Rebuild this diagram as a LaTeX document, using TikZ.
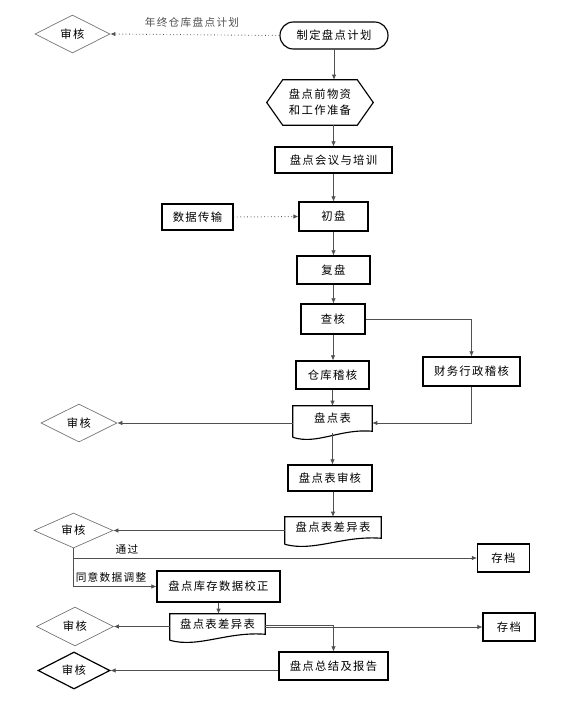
\documentclass[tikz,border=0pt]{standalone}
\usepackage{fontspec}
\setmainfont{Noto Sans CJK SC}[LetterSpace=12]
\usetikzlibrary{arrows.meta,calc,shapes.geometric}
\definecolor{lnc}{HTML}{505050}
\definecolor{dgc}{HTML}{707070}
\tikzset{
  sz/.style 2 args={minimum width=#1*0.75pt, minimum height=#2*0.75pt},
  txt/.style={font=\fontsize{8.5pt}{10pt}\selectfont, inner sep=0pt, align=center},
  box/.style={txt, draw=black, line width=0.85pt, rectangle},
  plain/.style={txt},
  boxline/.style={draw=black, line width=0.85pt},
  dia/.style={txt, draw=dgc, line width=0.5pt, diamond, shape aspect=2},
  bdia/.style={txt, draw=black, line width=0.9pt, diamond, shape aspect=2},
  conn/.style={draw=lnc, line width=0.55pt, -{Latex[length=3.8pt,width=3.4pt]}},
  dconn/.style={conn, dotted, line width=0.7pt},
  lbl/.style={font=\fontsize{8pt}{10pt}\selectfont, inner sep=0pt},
}
\newcommand\docpath[1]{\draw[boxline] ($(#1.south west)+(0,6)$) -- (#1.north west) -- (#1.north east) -- (#1.south east) .. controls ($(#1.south east)!0.4!(#1.south west)+(0,-3)$) and ($(#1.south east)!0.7!(#1.south west)+(0,14)$) .. ($(#1.south west)+(0,6)$);}
\begin{document}
\begin{tikzpicture}[x=0.75pt,y=-0.75pt]
\useasboundingbox (0,0) rectangle (588,704);
% nodes
\node[box, sz={108}{27}, rounded corners=10pt] (plan) at (334,35.5) {制定盘点计划};
\node[dia, minimum width=75*0.75pt, minimum height=38*0.75pt] (rev1) at (72.5,34) {审核};
\node[plain, sz={106}{45}] (prep) at (320,102.5) {盘点前物资\\[2pt]和工作准备};
\node[box, sz={117}{26}] (meet) at (333.5,160) {盘点会议与培训};
\node[box, sz={69}{29}] (first) at (333.5,216.5) {初盘};
\node[box, sz={71}{26}] (data) at (197.5,217) {数据传输};
\node[box, sz={73}{28}] (second) at (333.5,270) {复盘};
\node[box, sz={64}{30}] (check) at (333,319) {查核};
\node[box, sz={73}{28}] (wh) at (332.5,375) {仓库稽核};
\node[box, sz={97}{29}] (fin) at (471.5,371.5) {财务行政稽核};
\node[plain, sz={79}{25}] (tbl) at (332.5,418.5) {盘点表};
\node[dia, minimum width=76*0.75pt, minimum height=38*0.75pt] (rev2) at (79,423) {审核};
\node[box, sz={84}{26}] (tblrev) at (330,478) {盘点表审核};
\node[plain, sz={96}{21}] (diff1) at (333,527.5) {盘点表差异表};
\node[dia, minimum width=79*0.75pt, minimum height=35*0.75pt] (rev3) at (73.5,530.5) {审核};
\node[box, sz={52}{28}] (arch1) at (503.5,558) {存档};
\node[box, sz={123}{31}] (fix) at (218.5,586.5) {盘点库存数据校正};
\node[plain, sz={95}{20}] (diff2) at (217.5,624) {盘点表差异表};
\node[dia, minimum width=77*0.75pt, minimum height=39*0.75pt] (rev4) at (75,626.5) {审核};
\node[box, sz={52}{28}] (arch2) at (509,627) {存档};
\node[box, sz={109}{28}] (sum) at (333.5,666) {盘点总结及报告};
\node[bdia, minimum width=72*0.75pt, minimum height=37*0.75pt] (rev5) at (74,670.5) {审核};
% special outlines
\draw[boxline] (prep.west) -- ($(prep.north west)+(16,0)$) -- ($(prep.north east)+(-16,0)$) -- (prep.east) -- ($(prep.south east)+(-16,0)$) -- ($(prep.south west)+(16,0)$) -- cycle;
\docpath{tbl}
\docpath{diff1}
\docpath{diff2}
% labels
\node[lbl, text=lnc] (lplan) at (192,22) {年终仓库盘点计划};
\node[lbl] (lpass) at (127,549) {通过};
\node[lbl] (ladj) at (111,577) {同意数据调整};
% connectors
\draw[dconn] (plan.west) -- (rev1.east);
\draw[conn] (plan.south) -- (plan.south |- prep.north);
\draw[conn] (meet.north |- prep.south) -- (meet.north);
\draw[conn] (meet.south) -- (meet.south |- first.north);
\draw[dconn] (data.east) -- (first.west);
\draw[conn] (first.south) -- (first.south |- second.north);
\draw[conn] (second.south) -- (second.south |- check.north);
\draw[conn] (check.south) -- (check.south |- wh.north);
\draw[conn] (check.east) -| (fin.north);
\draw[conn] (wh.south) -- (wh.south |- tbl.north);
\draw[conn] (fin.south) |- (tbl.east |- rev2.east);
\draw[conn] (tbl.west |- rev2.east) -- (rev2.east);
\draw[conn] ($(tbl.south)+(0,2)$) -- (tbl.south |- tblrev.north);
\draw[conn] (diff1.north |- tblrev.south) -- (diff1.north);
\draw[conn] (diff1.west |- rev3.east) -- (rev3.east);
\draw[conn] (rev3.south) |- (arch1.west);
\draw[conn] (rev3.south) |- (fix.west);
\draw[conn] (fix.south) -- (fix.south |- diff2.north);
\draw[conn] (diff2.west |- rev4.east) -- (rev4.east);
\draw[conn] (diff2.east |- arch2.west) -- (arch2.west);
\draw[conn] ($(diff2.east |- arch2.west)+(0,-1.3)$) -| (sum.north);
\draw[conn] (sum.west |- rev5.east) -- (rev5.east);
\end{tikzpicture}
\end{document}
